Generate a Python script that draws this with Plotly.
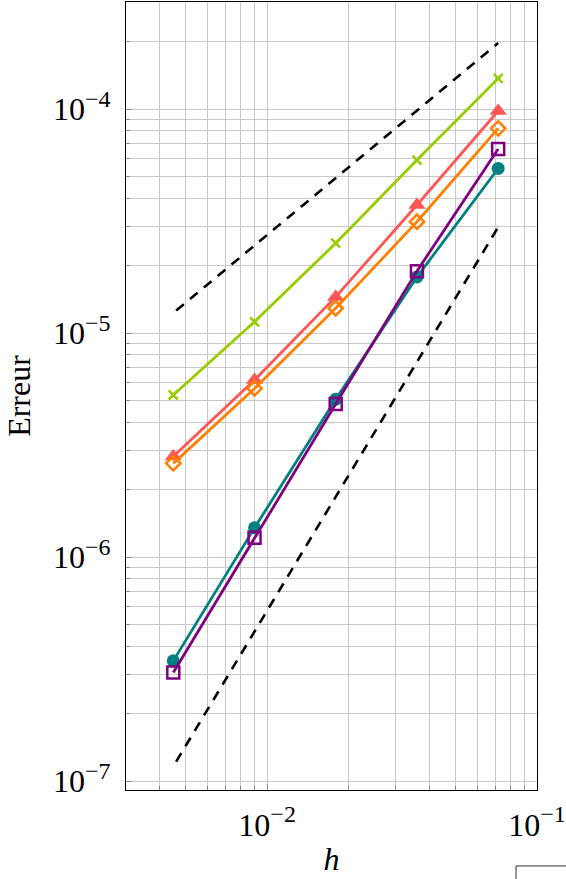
import plotly.graph_objects as go

# pas de maillage h
h = [0.00449, 0.00898, 0.01795, 0.0359, 0.0718]

# erreurs
err_green = [5.29e-6, 1.123e-5, 2.52e-5, 5.92e-5, 1.37e-4]
err_red = [2.81e-6, 6.17e-6, 1.45e-5, 3.73e-5, 9.8e-5]
err_orange = [2.62e-6, 5.66e-6, 1.29e-5, 3.14e-5, 8.2e-5]
err_teal = [3.44e-7, 1.35e-6, 5.06e-6, 1.78e-5, 5.43e-5]
err_purple = [3.05e-7, 1.22e-6, 4.82e-6, 1.89e-5, 6.63e-5]

# droites de reference (ordre 1 et ordre 2)
ref_h = [0.0046, 0.0718]
ref_order1 = [1.26e-5, 1.97e-4]
ref_order2 = [1.22e-7, 2.97e-5]

SUP = '<sup><span style="font-size:24px">%s</span></sup>'
x_major = [1e-2, 1e-1]
x_major_text = ["10" + SUP % "−2", "10" + SUP % "−1"]
x_minor = [k * 1e-3 for k in range(3, 10)] + [k * 1e-2 for k in range(2, 10)]
y_major = [1e-7, 1e-6, 1e-5, 1e-4]
y_major_text = ["10" + SUP % "−7", "10" + SUP % "−6", "10" + SUP % "−5", "10" + SUP % "−4"]
y_minor = [k * 10.0 ** d for d in (-8, -7, -6, -5, -4) for k in range(2, 10)]

FONT = "Liberation Serif"

fig = go.Figure()

series = [
    (err_green, '#99cc00', dict(symbol='x-thin', size=9, line=dict(width=2.5, color='#99cc00'))),
    (err_red, '#ff5555', dict(symbol='triangle-up', size=15, color='#ff5555')),
    (err_orange, '#ff8000', dict(symbol='diamond-open', size=11, color='#ff8000', line=dict(width=2.5))),
    (err_teal, '#008080', dict(symbol='circle', size=13, color='#008080')),
    (err_purple, '#800080', dict(symbol='square-open', size=12, color='#800080', line=dict(width=2.5))),
]
for ys, col, mk in series:
    fig.add_trace(go.Scatter(
        x=h, y=ys, mode='lines+markers',
        line=dict(color=col, width=2.8),
        marker=mk,
        showlegend=False,
    ))

for ref in (ref_order1, ref_order2):
    fig.add_trace(go.Scatter(
        x=ref_h, y=ref, mode='lines',
        line=dict(color='black', width=2.6, dash='10px,8px'),
        showlegend=False,
    ))

# bord de la legende (coupee en bas a droite)
fig.add_shape(type='rect', xref='paper', yref='paper',
              x0=0.949, x1=1.2, y0=-0.0964, y1=-0.3,
              line=dict(color='#333333', width=1))

axis_common = dict(
    type='log', automargin=False,
    showgrid=True, gridcolor='#c8c8c8', gridwidth=1,
    showline=True, linecolor='black', linewidth=1.2, mirror=True,
    ticks='inside', ticklen=6, tickcolor='#888888',
    tickfont=dict(family=FONT, size=32, color='black'),
    zeroline=False,
)

fig.update_xaxes(
    range=[-2.523, -1.0],
    tickmode='array', tickvals=x_major, ticktext=x_major_text,
    minor=dict(tickmode='array', tickvals=x_minor, ticks='inside', ticklen=4,
               tickcolor='#888888', showgrid=True, gridcolor='#c8c8c8', gridwidth=1),
    ticklabelstandoff=6,
    title=dict(text='<i>h</i>', font=dict(family=FONT, size=32, color='black'), standoff=6),
    **axis_common
)
fig.update_yaxes(
    range=[-7.04, -3.522],
    tickmode='array', tickvals=y_major, ticktext=y_major_text,
    minor=dict(tickmode='array', tickvals=y_minor, ticks='inside', ticklen=4,
               tickcolor='#888888', showgrid=True, gridcolor='#c8c8c8', gridwidth=1),
    ticklabelstandoff=8,
    title=dict(text='Erreur', font=dict(family=FONT, size=32, color='black'), standoff=12),
    **axis_common
)

fig.update_layout(
    width=566, height=879,
    margin=dict(l=126, r=29, t=2, b=89),
    paper_bgcolor='white', plot_bgcolor='white',
    font=dict(family=FONT, color='black'),
)

# pas de marge autour du graphique dans la page
fig.write_html("out.html", config={'displayModeBar': False},
               post_script="document.body.style.margin='0px';")
